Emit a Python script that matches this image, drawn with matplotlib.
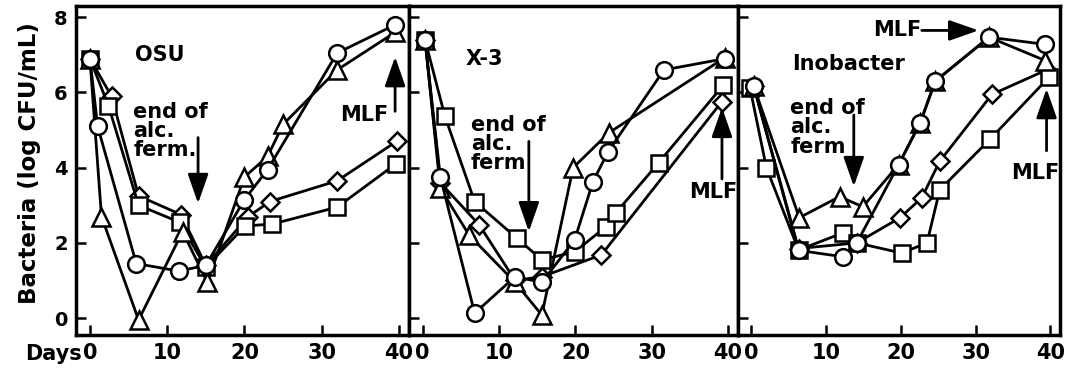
import matplotlib
matplotlib.use('Agg')
import matplotlib.pyplot as plt

plt.rcParams['font.family'] = ['DejaVu Sans']
plt.rcParams['font.weight'] = 'bold'

# ---- data (days, log CFU/mL) ----
# OSU
osu_circle_x = [0, 1, 6, 11.5, 15, 20, 23, 32, 39.5]
osu_circle_y = [6.9, 5.1, 1.45, 1.25, 1.4, 3.15, 3.95, 7.05, 7.8]
osu_tri_x = [0, 1.5, 6.3, 12, 15.2, 20, 23, 25, 32, 39.5]
osu_tri_y = [6.9, 2.7, -0.05, 2.3, 0.95, 3.75, 4.3, 5.15, 6.6, 7.6]
osu_dia_x = [0, 2.8, 6.3, 11.8, 15, 20.5, 23.3, 32, 39.7]
osu_dia_y = [6.9, 5.9, 3.25, 2.75, 1.4, 2.7, 3.1, 3.65, 4.7]
osu_sq_x = [0, 2.4, 6.3, 11.6, 15, 20.1, 23.6, 32, 39.6]
osu_sq_y = [6.9, 5.65, 3.0, 2.55, 1.35, 2.45, 2.5, 2.95, 4.1]

# X-3
x3_circle_x = [0.3, 2.3, 6.8, 12.1, 15.6, 19.9, 22.3, 24.3, 31.6, 39.6]
x3_circle_y = [7.4, 3.76, 0.13, 1.1, 0.95, 2.08, 3.63, 4.43, 6.6, 6.9]
x3_tri_x = [0.3, 2.3, 6.1, 12.1, 15.6, 19.7, 24.4, 39.6]
x3_tri_y = [7.4, 3.45, 2.2, 0.95, 0.08, 4.0, 4.93, 6.93]
x3_sq_x = [0.3, 2.9, 6.8, 12.3, 15.6, 19.9, 24.0, 25.3, 30.9, 39.4]
x3_sq_y = [7.4, 5.37, 3.1, 2.13, 1.55, 1.76, 2.43, 2.8, 4.13, 6.2]
x3_dia_x = [0.3, 2.3, 7.4, 12.1, 15.6, 23.4, 39.2]
x3_dia_y = [7.4, 3.6, 2.48, 1.0, 1.1, 1.68, 5.76]

# Inobacter
ino_circle_x = [0.3, 6.3, 12.3, 14.1, 19.7, 22.6, 24.6, 31.8, 39.3]
ino_circle_y = [6.17, 1.8, 1.63, 2.0, 4.08, 5.2, 6.3, 7.47, 7.28]
ino_tri_x = [0.3, 6.4, 11.8, 14.9, 19.7, 22.6, 24.6, 31.8, 39.3]
ino_tri_y = [6.17, 2.67, 3.23, 2.96, 4.08, 5.2, 6.3, 7.47, 6.85]
ino_sq_x = [-0.2, 2.0, 6.3, 12.3, 14.1, 20.1, 23.5, 25.2, 31.9, 39.8]
ino_sq_y = [6.13, 4.0, 1.81, 2.27, 2.0, 1.73, 2.0, 3.41, 4.75, 6.4]
ino_dia_x = [0.3, 6.3, 14.1, 19.9, 22.8, 25.2, 32.2, 39.5]
ino_dia_y = [6.17, 1.85, 2.0, 2.67, 3.2, 4.17, 5.95, 6.6]

x_ticks = [0, 10, 20, 30, 40]
y_ticks = [0, 2, 4, 6, 8]

panels = [
    ('OSU', [(osu_dia_x, osu_dia_y, 'D'), (osu_sq_x, osu_sq_y, 's'),
             (osu_tri_x, osu_tri_y, '^'), (osu_circle_x, osu_circle_y, 'o')]),
    ('X-3', [(x3_dia_x, x3_dia_y, 'D'), (x3_sq_x, x3_sq_y, 's'),
             (x3_tri_x, x3_tri_y, '^'), (x3_circle_x, x3_circle_y, 'o')]),
    ('Inobacter', [(ino_dia_x, ino_dia_y, 'D'), (ino_sq_x, ino_sq_y, 's'),
                   (ino_tri_x, ino_tri_y, '^'), (ino_circle_x, ino_circle_y, 'o')]),
]

W, H = 1078, 370
fig = plt.figure(figsize=(W / 100, H / 100), dpi=100)

# panel edges in pixels
edges = [(76, 409), (409, 738), (738, 1060)]
top, bottom = 6, 335

msize = {'o': 12, 's': 11, 'D': 9.5, '^': 13}
axes = []
for (x0, x1), (name, series) in zip(edges, panels):
    ax = fig.add_axes([x0 / W, 1 - bottom / H, (x1 - x0) / W, (bottom - top) / H])
    for xs, ys, m in series:
        ax.plot(xs, ys, color='black', lw=2, marker=m, ms=msize[m],
                mfc='white', mec='black', mew=1.8)
    ax.set_xlim(-1.8, 41.3)
    ax.set_ylim(-0.45, 8.3)
    ax.set_xticks(x_ticks)
    ax.set_yticks(y_ticks)
    ax.tick_params(direction='in', length=7, width=1.8, pad=6)
    ax.tick_params(axis='x', labelsize=15)
    ax.tick_params(axis='y', labelsize=14)
    for s in ax.spines.values():
        s.set_linewidth(2.5)
    axes.append(ax)

axes[1].tick_params(labelleft=False)
axes[2].tick_params(labelleft=False)

arrow = dict(arrowstyle='-|>,head_length=1.0,head_width=0.35', color='black',
             lw=2, mutation_scale=18, shrinkA=0, shrinkB=0)
tkw = dict(fontsize=15, fontweight='bold', linespacing=0.95)

# OSU annotations
a = axes[0]
a.text(5.8, 7.0, 'OSU', fontsize=15, ha='left', va='center')
a.text(5.6, 5.75, 'end of\nalc.\nferm.', ha='left', va='top', **tkw)
a.annotate('', xy=(14, 3.05), xytext=(14, 4.8), arrowprops=arrow)
a.text(38.6, 5.4, 'MLF', ha='right', va='center', **tkw)
a.annotate('', xy=(39.5, 6.95), xytext=(39.5, 5.5), arrowprops=arrow)

# X-3 annotations
a = axes[1]
a.text(5.6, 6.9, 'X-3', fontsize=15, ha='left', va='center')
a.text(6.3, 5.4, 'end of\nalc.\nferm', ha='left', va='top', **tkw)
a.annotate('', xy=(13.9, 2.3), xytext=(13.9, 4.7), arrowprops=arrow)
a.text(38.0, 3.35, 'MLF', ha='center', va='center', **tkw)
a.annotate('', xy=(39.2, 5.6), xytext=(39.2, 3.7), arrowprops=arrow)

# Inobacter annotations
a = axes[2]
a.text(5.4, 6.75, 'Inobacter', fontsize=15, ha='left', va='center')
a.text(5.2, 5.85, 'end of\nalc.\nferm', ha='left', va='top', **tkw)
a.annotate('', xy=(13.7, 3.5), xytext=(13.7, 5.4), arrowprops=arrow)
a.text(22.8, 7.65, 'MLF', ha='right', va='center', **tkw)
a.annotate('', xy=(30.4, 7.65), xytext=(22.8, 7.65), arrowprops=arrow)
a.text(38.0, 3.85, 'MLF', ha='center', va='center', **tkw)
a.annotate('', xy=(39.5, 6.1), xytext=(39.5, 4.45), arrowprops=arrow)

fig.text(25 / W, 1 - 354 / H, 'Days', fontsize=15, fontweight='bold',
         ha='left', va='center')
fig.text(30 / W, 1 - 163 / H, 'Bacteria (log CFU/mL)', fontsize=16.5,
         fontweight='bold', rotation=90, ha='center', va='center')

fig.savefig('out.png', dpi=100)
